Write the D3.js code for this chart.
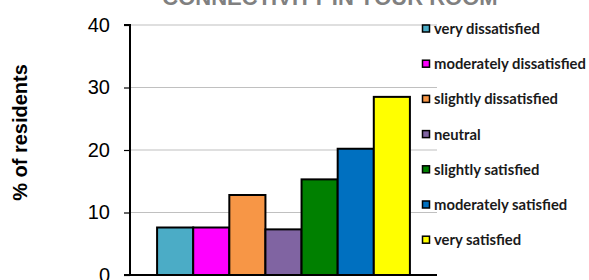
<!DOCTYPE html>
<html><head><meta charset="utf-8">
<script src="https://cdn.jsdelivr.net/npm/d3@7"></script>
<style>body{margin:0;background:#fff}svg{display:block}</style>
</head><body>
<svg id="chart" width="589" height="280"></svg>
<script>
const title = "CONNECTIVITY IN YOUR ROOM";
const yLabel = "% of residents";
const seriesNames = ["very dissatisfied","moderately dissatisfied","slightly dissatisfied","neutral","slightly satisfied","moderately satisfied","very satisfied"];
const seriesValues = [7.6, 7.6, 12.8, 7.3, 15.3, 20.2, 28.5];
const seriesColors = ["#4BACC6","#FF00FF","#F79646","#8064A2","#008000","#0070C0","#FFFF00"];
const yTicks = [0,10,20,30,40];

const svg = d3.select("#chart");
const L = 130, R = 437, T = 25, B = 275;
const x = d3.scaleBand().domain(seriesNames).range([L, R]).paddingInner(0).paddingOuter(0.75);
const y = d3.scaleLinear().domain([0, 40]).range([B, T]);

// gridlines
svg.append("g").selectAll("line").data(yTicks.filter(d=>d>0)).join("line")
  .attr("x1", L).attr("x2", R).attr("y1", d=>y(d)).attr("y2", d=>y(d))
  .attr("stroke", "#c0c0c0").attr("stroke-width", 1.2);

// bars
svg.append("g").selectAll("rect").data(seriesNames).join("rect")
  .attr("x", d=>x(d)).attr("width", x.bandwidth())
  .attr("y", (d,i)=>y(seriesValues[i])).attr("height", (d,i)=>B - y(seriesValues[i]))
  .attr("fill", (d,i)=>seriesColors[i]).attr("stroke", "#000").attr("stroke-width", 2);

// y axis
const yAxis = svg.append("g").attr("transform", `translate(${L},0)`)
  .call(d3.axisLeft(y).tickValues(yTicks).tickSize(6).tickPadding(14).tickFormat(d3.format("d")));
yAxis.select(".domain").attr("stroke", "#000").attr("stroke-width", 2).attr("d", `M-6,${T}H0V${B}`);
yAxis.selectAll(".tick line").attr("stroke", "#000").attr("stroke-width", 1.2);
yAxis.selectAll(".tick text").attr("font-family", "Arial, 'Liberation Sans', sans-serif").attr("font-size", 20).attr("fill", "#000");

// x axis line
svg.append("line").attr("x1", L - 6).attr("x2", R).attr("y1", B).attr("y2", B)
  .attr("stroke", "#000").attr("stroke-width", 2);

// title
svg.append("text").attr("x", 330).attr("y", 5).attr("text-anchor", "middle")
  .attr("font-family", "Arial, 'Liberation Sans', sans-serif").attr("font-weight", "bold")
  .attr("font-size", 22).attr("fill", "#808080").text(title);

// y label
svg.append("text").attr("transform", "translate(27,132.5) rotate(-90)").attr("text-anchor", "middle")
  .attr("font-family", "Arial, 'Liberation Sans', sans-serif").attr("font-weight", "bold")
  .attr("font-size", 20).attr("fill", "#000").text(yLabel);

// legend
const leg = svg.append("g").selectAll("g").data(seriesNames).join("g")
  .attr("transform", (d,i)=>`translate(422,${29 + i*35.2})`);
leg.append("rect").attr("x", 0.5).attr("y", -4).attr("width", 7).attr("height", 7)
  .attr("fill", (d,i)=>seriesColors[i]).attr("stroke", "#000").attr("stroke-width", 1.5);
leg.append("text").attr("x", 12).attr("y", 5)
  .attr("font-family", "Lato, 'Open Sans', sans-serif").attr("font-weight", "bold")
  .attr("font-size", 14.8).attr("fill", "#1a1a1a").text(d=>d);
</script>
</body></html>
